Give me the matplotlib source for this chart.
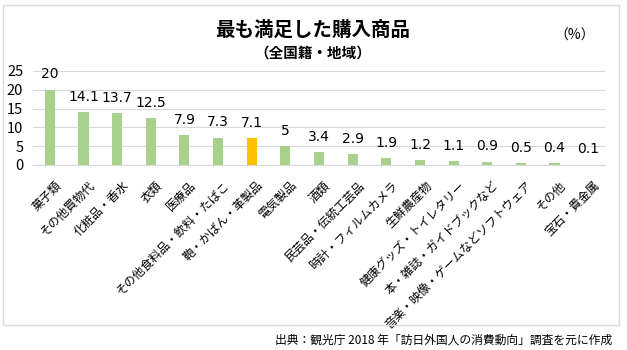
import matplotlib.pyplot as plt
import matplotlib.transforms as mtransforms
import numpy as np
from matplotlib.patches import Rectangle

plt.rcParams['font.family'] = ['Noto Sans CJK JP', 'DejaVu Sans']

categorias = ['菓子類', 'その他買物代', '化粧品・香水', '衣類', '医療品',
              'その他食料品・飲料・たばこ', '鞄・かばん・革製品', '電気製品', '酒類',
              '民芸品・伝統工芸品', '時計・フィルムカメラ', '生鮮農産物',
              '健康グッズ・トイレタリー', '本・雑誌・ガイドブックなど',
              '音楽・映像・ゲームなどソフトウェア', 'その他', '宝石・貴金属']
valores = [20, 14.1, 13.7, 12.5, 7.9, 7.3, 7.1, 5, 3.4, 2.9, 1.9, 1.2, 1.1, 0.9, 0.5, 0.4, 0.1]
destaque = '鞄・かばん・革製品'

verde = '#A9D18E'
laranja = '#FFC000'
cores = [laranja if c == destaque else verde for c in categorias]

fig = plt.figure(figsize=(6.27, 3.5), dpi=100)
ax = fig.add_axes([33/627, 1 - 165/350, 572/627, 94/350])

x = np.arange(len(categorias))
barras = ax.bar(x, valores, width=0.3, color=cores, zorder=3)

ax.set_ylim(0, 25)
ax.set_xlim(-0.5, len(categorias) - 0.5)
ax.set_yticks(np.arange(0, 26, 5))
ax.tick_params(axis='y', length=0, labelsize=10.5, pad=7)
ax.tick_params(axis='x', length=0, pad=10)
ax.grid(axis='y', color='#D9D9D9', linewidth=0.8, zorder=0)
for lado in ['top', 'right', 'left']:
    ax.spines[lado].set_visible(False)
ax.spines['bottom'].set_color('#D9D9D9')

ax.set_xticks(x)
ax.set_xticklabels(categorias, rotation=45, ha='right', rotation_mode='anchor', fontsize=8.6)
# desloca os rótulos um pouco para a direita
desloc = mtransforms.ScaledTranslation(5/100, 0, fig.dpi_scale_trans)
for lbl in ax.get_xticklabels():
    lbl.set_transform(lbl.get_transform() + desloc)

# rótulos de valor acima das barras
for b, v in zip(barras, valores):
    ax.annotate(f'{v:g}', xy=(b.get_x() + b.get_width()/2, b.get_height()),
                xytext=(0, 6), textcoords='offset points', ha='center', va='bottom',
                fontsize=10, family='DejaVu Sans')

fig.text(313/627, 1 - 30/350, '最も満足した購入商品', ha='center', va='center',
         fontsize=14, fontweight='bold')
fig.text(313/627, 1 - 53/350, '（全国籍・地域）', ha='center', va='center',
         fontsize=10.5, fontweight='bold')
fig.text(575/627, 1 - 36/350, '（%）', ha='center', va='center', fontsize=10)

fig.patches.append(Rectangle((3/627, 1 - 325/350), 616/627, 320/350,
                             transform=fig.transFigure, fill=False,
                             edgecolor='#D9D9D9', linewidth=1))

fig.text(612/627, 1 - 340/350, '出典：観光庁 2018 年「訪日外国人の消費動向」調査を元に作成',
         ha='right', va='center', fontsize=8.5)

fig.savefig('out.png', dpi=100, facecolor='white')
